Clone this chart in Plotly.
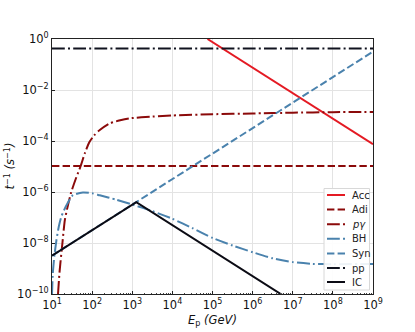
import plotly.graph_objects as go

# ---- data ----
acc_E = [7.5e4, 1e9]
acc_rate = [1.0, 7.5e-5]

adi_E = [10, 1e9]
adi_rate = [1.05e-5, 1.05e-5]

pg_logE = [1.15, 1.19, 1.26, 1.32, 1.40, 1.48, 1.60, 1.71, 1.82, 1.93, 2.05, 2.19, 2.44, 2.7, 2.94, 3.5, 4.0, 5.0, 6.0, 7.0, 8.0, 9.0]
pg_logR = [-10.0, -9.1, -8.0, -7.1, -6.5, -6.0, -5.45, -5.0, -4.47, -4.05, -3.78, -3.57, -3.31, -3.19, -3.11, -3.04, -3.0, -2.95, -2.92, -2.89, -2.87, -2.86]

bh_logE = [1.0, 1.02, 1.06, 1.11, 1.17, 1.23, 1.36, 1.52, 1.77, 2.0, 2.19, 2.6, 2.98, 3.5, 4.0, 4.5, 5.0, 5.5, 6.0, 6.5, 7.0, 7.5, 8.0, 9.0]
bh_logR = [-10.0, -9.2, -8.5, -7.9, -7.35, -6.98, -6.52, -6.13, -6.02, -6.05, -6.13, -6.3, -6.48, -6.75, -7.05, -7.42, -7.8, -8.1, -8.36, -8.6, -8.75, -8.82, -8.83, -8.82]

syn_E = [10, 1e9]
syn_rate = [3.2e-9, 0.32]

pp_E = [10, 1e9]
pp_rate = [0.42, 0.42]

ic_E = [10, 1260, 1e7]
ic_rate = [3.2e-9, 4.0e-7, 5.0e-11]

legend_labels = ["Acc", "Adi", "<i>pγ</i>", "BH", "Syn", "pp", "IC"]

x_tickvals = [10**k for k in range(1, 10)]
x_ticktext = ["10<sup>%d</sup>" % k for k in range(1, 10)]
x_minor = [m * 10**k for k in range(1, 9) for m in range(2, 10)]
y_exps = [0, -2, -4, -6, -8, -10]
y_tickvals = [10.0**k for k in y_exps]
y_ticktext = ["10<sup>%s</sup>" % (str(k).replace("-", "−")) for k in y_exps]

RED = "#e41a23"
DARKRED = "#8b0a0a"
BLUE = "#4a82ad"
BLACK = "#0b0b14"
PPCOL = "#10131f"
DASH = "7.4px,3.2px"
DASHDOT = "12.8px,3.2px,2px,3.2px"

styles = [
    dict(color=RED, width=2),
    dict(color=DARKRED, width=2, dash=DASH),
    dict(color=DARKRED, width=2, dash=DASHDOT),
    dict(color=BLUE, width=2, dash=DASHDOT),
    dict(color=BLUE, width=2, dash=DASH),
    dict(color=PPCOL, width=2, dash=DASHDOT),
    dict(color=BLACK, width=2),
]

fig = go.Figure()
fig.add_trace(go.Scatter(x=acc_E, y=acc_rate, mode="lines", name="Acc", line=styles[0]))
fig.add_trace(go.Scatter(x=adi_E, y=adi_rate, mode="lines", name="Adi", line=styles[1]))
fig.add_trace(go.Scatter(x=[10**v for v in pg_logE], y=[10**v for v in pg_logR], mode="lines",
                         name="pγ", line=dict(**styles[2], shape="spline", smoothing=0.6)))
fig.add_trace(go.Scatter(x=[10**v for v in bh_logE], y=[10**v for v in bh_logR], mode="lines",
                         name="BH", line=dict(**styles[3], shape="spline", smoothing=0.6)))
fig.add_trace(go.Scatter(x=syn_E, y=syn_rate, mode="lines", name="Syn", line=styles[4]))
fig.add_trace(go.Scatter(x=pp_E, y=pp_rate, mode="lines", name="pp", line=styles[5]))
fig.add_trace(go.Scatter(x=ic_E, y=ic_rate, mode="lines", name="IC", line=styles[6]))

PX0, PX1, PY0, PY1 = 52.0, 373.0, 39.0, 294.0


def px(x):
    return (x - PX0) / (PX1 - PX0)


def py(y):
    return (PY1 - y) / (PY1 - PY0)


shapes = [dict(type="rect", xref="paper", yref="paper", layer="above",
               x0=px(324), x1=px(369.5), y0=py(290), y1=py(188.5),
               fillcolor="rgba(255,255,255,0.9)", line=dict(color="#d8d8d8", width=1))]
annotations = []
row_y = [195, 209.6, 224.2, 238.8, 253.4, 268.0, 282.0]
for lab, st, yy in zip(legend_labels, styles, row_y):
    shapes.append(dict(type="line", xref="paper", yref="paper", layer="above",
                       x0=px(327), x1=px(345), y0=py(yy), y1=py(yy), line=st))
    annotations.append(dict(text=lab, xref="paper", yref="paper", x=px(350), y=py(yy),
                            xanchor="left", yanchor="middle", showarrow=False,
                            font=dict(family="DejaVu Sans", size=10, color="#222")))

annotations.append(dict(text="<i>E</i><sub>p</sub> <i>(GeV)</i>", xref="paper", yref="paper",
                        x=px(212.8), y=py(320.5), xanchor="center", yanchor="middle", showarrow=False,
                        font=dict(family="DejaVu Sans", size=11.5, color="#111")))
annotations.append(dict(text="<i>t</i><sup>−1</sup> <i>(s</i><sup>−1</sup><i>)</i>", xref="paper", yref="paper",
                        x=px(10), y=py(166.5), xanchor="center", yanchor="middle", showarrow=False,
                        textangle=-90,
                        font=dict(family="DejaVu Sans", size=11.5, color="#111")))

axis_common = dict(
    type="log", showgrid=True, gridcolor="#e3e3e3", gridwidth=1, automargin=False,
    showline=True, linecolor="#222222", linewidth=1, mirror=True,
    ticks="inside", ticklen=3, tickcolor="#222222", zeroline=False,
    tickfont=dict(family="DejaVu Sans", size=11.5, color="#111"),
)

fig.update_layout(
    width=415, height=332,
    margin=dict(l=52, r=42, t=39, b=38),
    plot_bgcolor="white", paper_bgcolor="white",
    font=dict(family="DejaVu Sans", size=11, color="#111"),
    xaxis=dict(**axis_common, range=[1, 9], tickvals=x_tickvals, ticktext=x_ticktext,
               minor=dict(tickvals=x_minor, ticks="inside", ticklen=1.5, tickcolor="#444", showgrid=False)),
    yaxis=dict(**axis_common, range=[-10, 0], tickvals=y_tickvals, ticktext=y_ticktext),
    showlegend=False,
    hovermode=False,
    shapes=shapes,
    annotations=annotations,
)

fig.write_html("out.html", config={"displayModeBar": False, "staticPlot": True},
               post_script="document.body.style.margin='0';document.body.style.overflow='hidden';")
